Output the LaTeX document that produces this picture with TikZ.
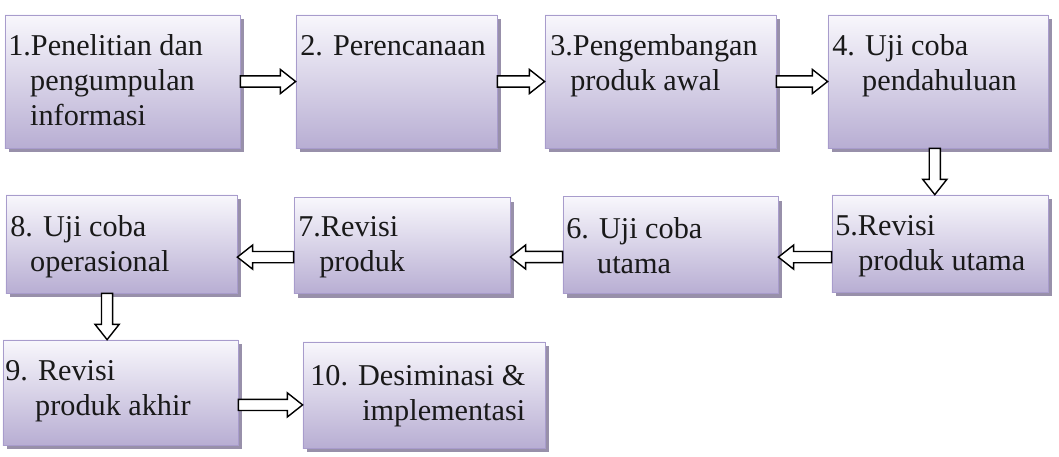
\documentclass[tikz,border=0pt]{standalone}
\usepackage{fontspec}
\setmainfont{Liberation Serif}
\usepackage{xcolor}
\usepackage{tikz}
\usetikzlibrary{calc,shadows}

\definecolor{boxline}{RGB}{168,156,204}
\definecolor{boxfill}{RGB}{184,174,211}
\definecolor{boxtop}{RGB}{248,247,252}
\definecolor{boxshadow}{RGB}{152,144,170}
\definecolor{textcol}{RGB}{25,25,25}

% hollow block arrow from #1 to #2
\newcommand\blockarrow[2]{%
\coordinate (ta) at (#1);
\coordinate (tb) at (#2);
\coordinate (th) at ($(tb)!0.38cm!(ta)$);
\draw [arrowline] ($(ta)!0.14cm!90:(tb)$) -- ($(th)!0.14cm!90:(tb)$) -- ($(th)!0.3cm!90:(tb)$) -- (tb) -- ($(th)!0.3cm!-90:(tb)$) -- ($(th)!0.14cm!-90:(tb)$) -- ($(ta)!0.14cm!-90:(tb)$) -- cycle;}

\begin{document}
\begin{tikzpicture}[x=0.025cm, y=0.025cm]
\tikzstyle{every node}+=[inner sep=0pt]
\tikzstyle{stepbox}=[draw=boxline, line width=0.5pt, top color=boxtop, bottom color=boxfill, drop shadow={shadow xshift=0.11cm, shadow yshift=-0.11cm, fill=boxshadow, opacity=1}]
\tikzstyle{steptext}=[anchor=base west, text=textcol, font=\fontsize{21.5}{25}\selectfont]
\tikzstyle{arrowline}=[draw=black, line width=1pt, fill=white, line join=miter]
\useasboundingbox (0,0) rectangle (1059,-456);

\node [stepbox, minimum width=5.875cm, minimum height=3.325cm] (b1) at (122.5,-81.5) {};
\node [stepbox, minimum width=5.025cm, minimum height=3.325cm] (b2) at (396.5,-81.5) {};
\node [stepbox, minimum width=5.775cm, minimum height=3.325cm] (b3) at (660.5,-81.5) {};
\node [stepbox, minimum width=5.5cm, minimum height=3.325cm] (b4) at (938,-81.5) {};
\node [stepbox, minimum width=5.4cm, minimum height=2.425cm] (b5) at (940,-243.5) {};
\node [stepbox, minimum width=5.375cm, minimum height=2.425cm] (b6) at (670.5,-245) {};
\node [stepbox, minimum width=5.4cm, minimum height=2.4cm] (b7) at (402,-245.5) {};
\node [stepbox, minimum width=5.775cm, minimum height=2.45cm] (b8) at (121.5,-244) {};
\node [stepbox, minimum width=5.875cm, minimum height=2.625cm] (b9) at (120.5,-392.5) {};
\node [stepbox, minimum width=6.05cm, minimum height=2.65cm] (b10) at (424,-395) {};

\node [steptext] (t1) at (8,-55) {\begin{tabular}[t]{@{}l@{}}1.Penelitian dan\\\hspace*{15.6pt}pengumpulan\\\hspace*{15.6pt}informasi\end{tabular}};
\node [steptext] (t2) at (300,-55) {2. Perencanaan};
\node [steptext] (t3) at (550,-55) {\begin{tabular}[t]{@{}l@{}}3.Pengembangan\\\hspace*{14.2pt}produk awal\end{tabular}};
\node [steptext] (t4) at (832,-55) {\begin{tabular}[t]{@{}l@{}}4. Uji coba\\\hspace*{21.3pt}pendahuluan\end{tabular}};
\node [steptext] (t5) at (835,-235) {\begin{tabular}[t]{@{}l@{}}5.Revisi\\\hspace*{16.4pt}produk utama\end{tabular}};
\node [steptext] (t6) at (566,-238) {\begin{tabular}[t]{@{}l@{}}6. Uji coba\\\hspace*{22pt}utama\end{tabular}};
\node [steptext] (t7) at (298,-236) {\begin{tabular}[t]{@{}l@{}}7.Revisi\\\hspace*{15pt}produk\end{tabular}};
\node [steptext] (t8) at (10,-236) {\begin{tabular}[t]{@{}l@{}}8. Uji coba\\\hspace*{14.2pt}operasional\end{tabular}};
\node [steptext] (t9) at (5,-380) {\begin{tabular}[t]{@{}l@{}}9. Revisi\\\hspace*{21.3pt}produk akhir\end{tabular}};
\node [steptext] (t10) at (310,-385) {\begin{tabular}[t]{@{}l@{}}10. Desiminasi \&\\\hspace*{37pt}implementasi\end{tabular}};

\blockarrow{b1.east}{b2.west}
\blockarrow{b2.east}{b3.west}
\blockarrow{b3.east}{b4.west}
\blockarrow{[xshift=-0.08cm]b4.south}{b5.north -| ta}
\blockarrow{[yshift=-0.34cm]b5.west}{b6.east |- ta}
\blockarrow{[yshift=-0.3cm]b6.west}{b7.east |- ta}
\blockarrow{[yshift=-0.29cm]b7.west}{b8.east |- ta}
\blockarrow{[xshift=-0.36cm]b8.south}{b9.north -| ta}
\blockarrow{[yshift=-0.31cm]b9.east}{b10.west |- ta}
\end{tikzpicture}
\end{document}
